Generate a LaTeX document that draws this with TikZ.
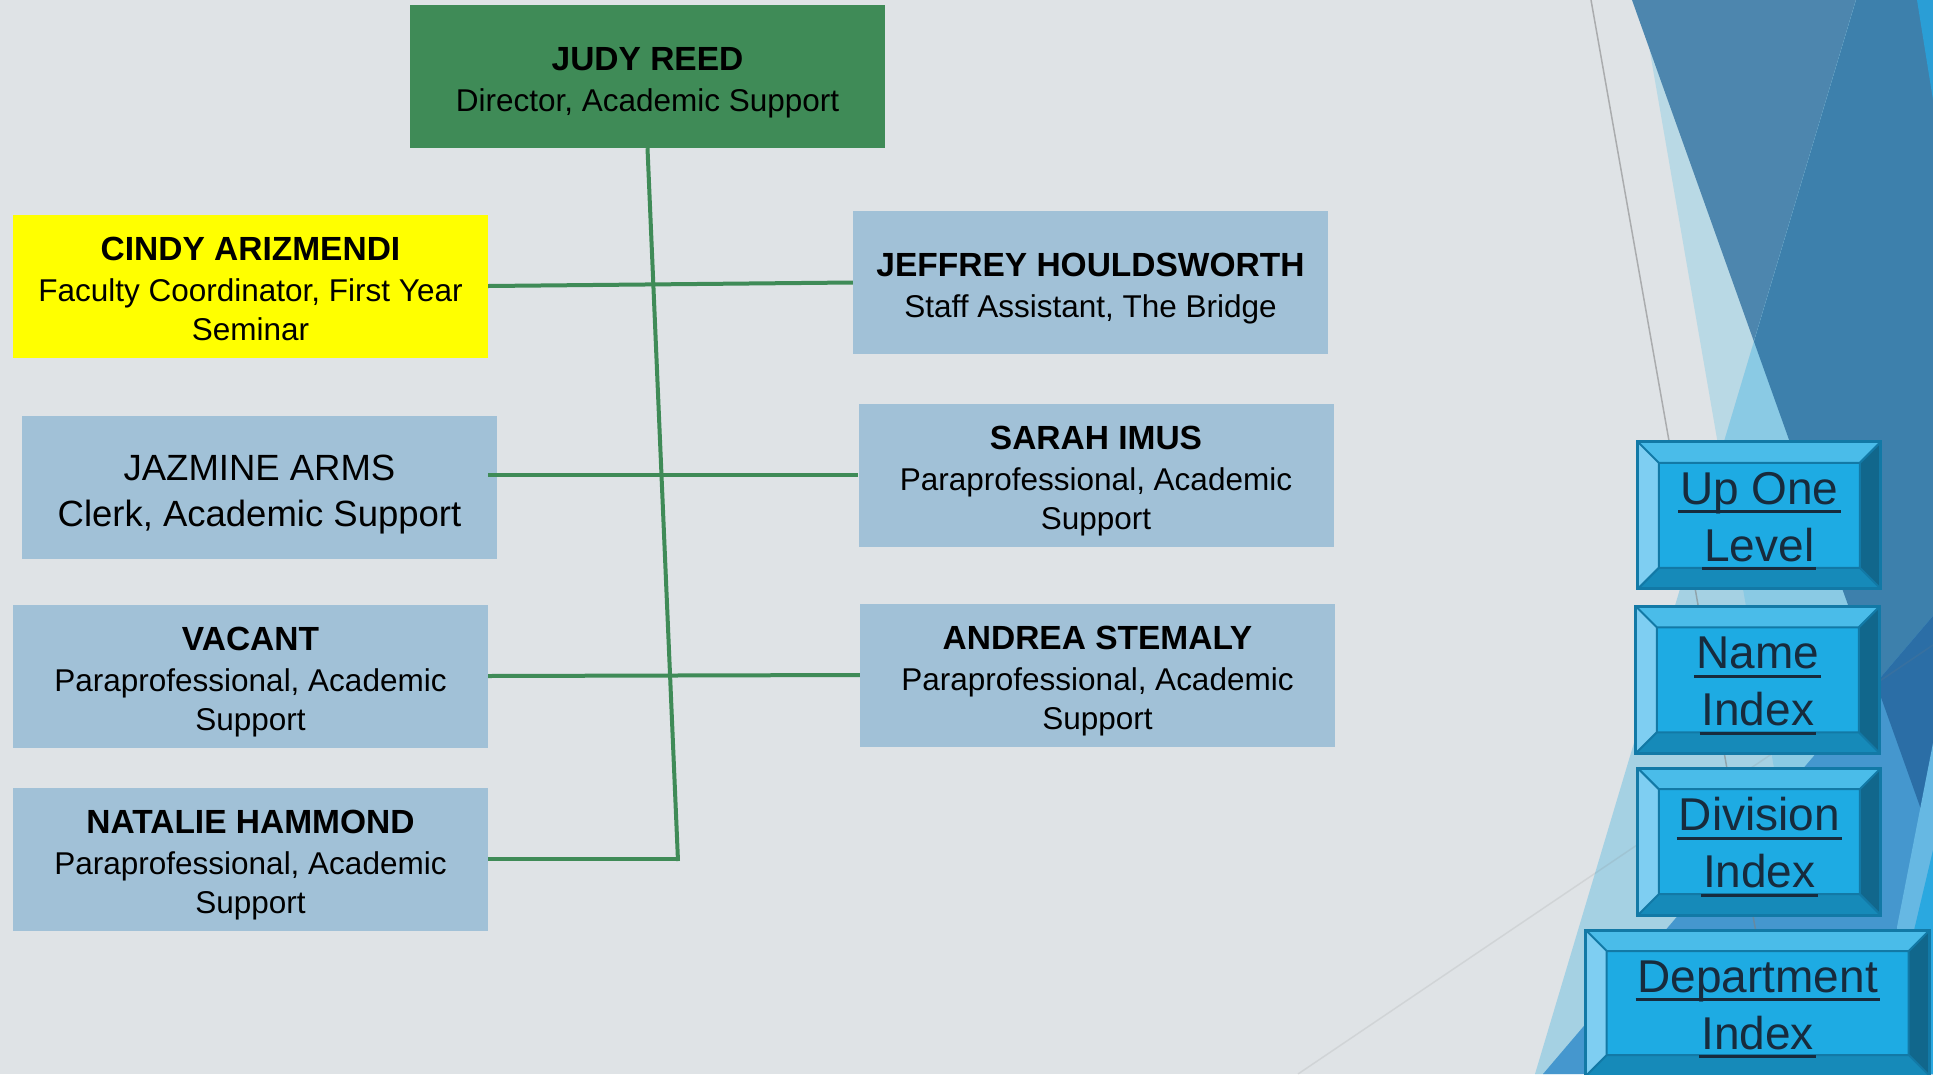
\documentclass[tikz,border=0pt]{standalone}
\usepackage{fontspec}
\setmainfont{Liberation Sans}
\definecolor{bgc}{RGB}{223,227,230}
\definecolor{orgblue}{RGB}{161,193,215}
\definecolor{orggreen}{RGB}{63,139,87}
\definecolor{linegreen}{RGB}{63,139,87}
\definecolor{hiyellow}{RGB}{255,255,0}
\definecolor{stripL}{RGB}{185,217,229}
\definecolor{facetA}{RGB}{77,134,174}
\definecolor{facetB}{RGB}{165,209,227}
\definecolor{facetBL}{RGB}{138,202,228}
\definecolor{facetBA}{RGB}{61,128,172}
\definecolor{facetC}{RGB}{69,151,206}
\definecolor{facetCA}{RGB}{43,110,166}
\definecolor{facetD}{RGB}{42,158,214}
\definecolor{facetE}{RGB}{102,184,227}
\definecolor{facetF}{RGB}{42,168,224}
\definecolor{btnface}{RGB}{30,171,227}
\definecolor{btnedge}{RGB}{18,121,166}
\definecolor{btntop}{RGB}{74,188,233}
\definecolor{btnleft}{RGB}{126,206,242}
\definecolor{btnright}{RGB}{17,103,140}
\definecolor{btnbottom}{RGB}{22,138,185}
\definecolor{btntext}{RGB}{23,43,61}
\newcommand\btnul[1]{\setbox0=\hbox{#1}\rlap{\kern-2pt\rule[-9pt]{\dimexpr\wd0+4pt\relax}{3pt}}\box0}
\pgfdeclarelayer{backdrop}
\pgfdeclarelayer{conn}
\pgfsetlayers{backdrop,conn,main}
\tikzset{
  orgbox/.style={rectangle, minimum width=475pt, minimum height=143pt, inner sep=0pt,
    align=center, text=black, font=\fontsize{31.5}{39}\selectfont,
    text height=76pt, text depth=7pt},
  threeline/.style={text height=115pt, text depth=7pt},
  bluebox/.style={orgbox, fill=orgblue},
  link/.style={draw=linegreen, line width=4pt},
  navbtn/.style={rectangle, inner sep=0pt, align=center, fill=btnface, draw=btnedge,
    line width=3pt, text=btntext, font=\fontsize{46}{57}\selectfont,
    text height=101pt, text depth=9pt,
    path picture={
      \coordinate (pNW) at (path picture bounding box.north west);
      \coordinate (pNE) at (path picture bounding box.north east);
      \coordinate (pSW) at (path picture bounding box.south west);
      \coordinate (pSE) at (path picture bounding box.south east);
      \coordinate (iNW) at ([shift={(21pt,-21pt)}]pNW);
      \coordinate (iNE) at ([shift={(-21pt,-21pt)}]pNE);
      \coordinate (iSW) at ([shift={(21pt,21pt)}]pSW);
      \coordinate (iSE) at ([shift={(-21pt,21pt)}]pSE);
      \fill[btntop] (pNW) -- (pNE) -- (iNE) -- (iNW) -- cycle;
      \fill[btnbottom] (pSW) -- (pSE) -- (iSE) -- (iSW) -- cycle;
      \fill[btnleft] (pNW) -- (pSW) -- (iSW) -- (iNW) -- cycle;
      \fill[btnright] (pNE) -- (pSE) -- (iSE) -- (iNE) -- cycle;
      \draw[btnedge, line width=2pt] (iNW) rectangle (iSE)
        (pNW) -- (iNW) (pNE) -- (iNE) (pSW) -- (iSW) (pSE) -- (iSE);
    }},
}
\begin{document}
\begin{tikzpicture}[x=1pt,y=-1pt]
\useasboundingbox (0,0) rectangle (1933,1074);
\begin{pgfonlayer}{backdrop}
\fill[bgc] (0,0) rectangle (1933,1074);
% facet shapes
\fill[stripL] (1641,0) -- (1827,1074) -- (1933,1074) -- (1933,0) -- cycle;
\fill[facetA] (1632,0) -- (1933,843) -- (1933,0) -- cycle;
\fill[facetB] (1856,0) -- (1535,1074) -- (1933,1074) -- (1933,0) -- cycle;
\begin{scope}
  \clip (1856,0) -- (1535,1074) -- (1933,1074) -- (1933,0) -- cycle;
  \fill[facetBL] (1641,0) -- (1827,1074) -- (1933,1074) -- (1933,0) -- cycle;
  \fill[facetBA] (1632,0) -- (1933,843) -- (1933,0) -- cycle;
\end{scope}
\fill[facetC] (1933,616) -- (1543,1074) -- (1933,1074) -- cycle;
\begin{scope}
  \clip (1933,616) -- (1543,1074) -- (1933,1074) -- cycle;
  \fill[facetCA] (1632,0) -- (1933,843) -- (1933,0) -- cycle;
\end{scope}
\fill[facetE] (1933,743) -- (1897,927) -- (1897,1074) -- (1933,1074) -- cycle;
\fill[facetF] (1933,850) -- (1880,1074) -- (1933,1074) -- cycle;
\fill[facetD] (1917,0) -- (1933,0) -- (1933,100) -- cycle;
\draw[gray, opacity=0.55, line width=1.5pt] (1591,0) -- (1781,1074);
\draw[gray, opacity=0.15, line width=1.5pt] (1298,1074) -- (1933,645);
\end{pgfonlayer}

% org chart boxes
\node[orgbox, fill=orggreen] (judy) at (647.5,76.5)
  {{\bfseries\fontsize{33.5}{39}\selectfont JUDY REED}\\[2pt]Director, Academic Support};
\node[orgbox, threeline, fill=hiyellow] (cindy) at (250.5,286)
  {{\bfseries\fontsize{33.5}{39}\selectfont CINDY ARIZMENDI}\\[2pt]Faculty Coordinator, First Year\\Seminar};
\node[bluebox] (jeffrey) at (1090.5,282.5)
  {{\bfseries\fontsize{33.5}{39}\selectfont JEFFREY HOULDSWORTH}\\[2pt]Staff Assistant, The Bridge};
\node[bluebox, font=\fontsize{36.5}{46}\selectfont, text height=86pt, text depth=8pt] (jazmine) at (259.5,487.5)
  {JAZMINE ARMS\\Clerk, Academic Support};
\node[bluebox, threeline] (sarah) at (1096,475)
  {{\bfseries\fontsize{33.5}{39}\selectfont SARAH IMUS}\\[2pt]Paraprofessional, Academic\\Support};
\node[bluebox, threeline] (vacant) at (250.5,676)
  {{\bfseries\fontsize{33.5}{39}\selectfont VACANT}\\[2pt]Paraprofessional, Academic\\Support};
\node[bluebox, threeline] (andrea) at (1097.5,675)
  {{\bfseries\fontsize{33.5}{39}\selectfont ANDREA STEMALY}\\[2pt]Paraprofessional, Academic\\Support};
\node[bluebox, threeline] (natalie) at (250.5,859)
  {{\bfseries\fontsize{33.5}{39}\selectfont NATALIE HAMMOND}\\[2pt]Paraprofessional, Academic\\Support};
\coordinate (trunkend) at (678,861);

\begin{pgfonlayer}{conn}
\draw[link] (judy.south) -- (trunkend);
\draw[link] (cindy.east) -- (jeffrey.west);
\draw[link] (vacant.east) -- (andrea.west);
\draw[link] (natalie.east) -- (trunkend |- natalie.east);
\end{pgfonlayer}
\draw[link] ([xshift=-9pt]jazmine.east |- sarah.west) -- (sarah.west);

% navigation buttons
\node[navbtn, minimum width=243pt, minimum height=147pt] (uplevel) at (1759.3,515.3)
  {\btnul{Up One}\\\btnul{Level}};
\node[navbtn, minimum width=244pt, minimum height=147pt] (nameidx) at (1757.8,679.8)
  {\btnul{Name}\\\btnul{Index}};
\node[navbtn, minimum width=243pt, minimum height=147pt] (dividx) at (1759.3,841.7)
  {\btnul{Division}\\\btnul{Index}};
\node[navbtn, minimum width=344pt, minimum height=146pt] (deptidx) at (1757.7,1003)
  {\btnul{Department}\\\btnul{Index}};
\end{tikzpicture}
\end{document}
